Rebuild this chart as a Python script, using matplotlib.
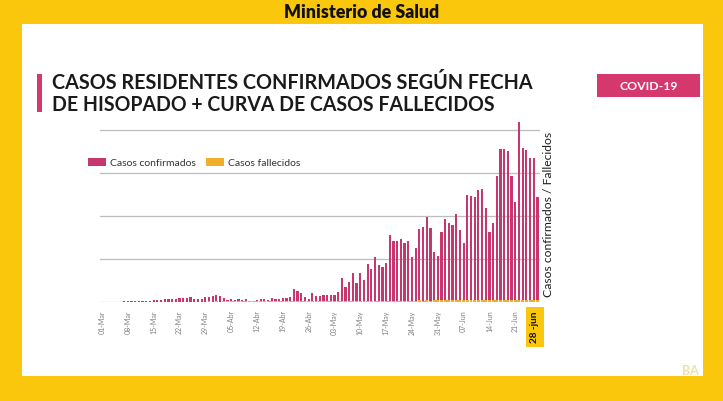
import matplotlib
matplotlib.use('Agg')
import matplotlib.pyplot as plt
from matplotlib.patches import Rectangle, Patch
import matplotlib.transforms as mtransforms
import numpy as np
import pandas as pd

# ---------------- data ----------------
dates = pd.date_range('2020-03-01', '2020-06-27', freq='D')

confirmados = [
    # Mar 1-31
    0, 0, 0, 2, 0, 2, 3, 3, 3, 4, 4, 5, 4, 6, 9, 10, 12, 15, 15, 17, 20, 23, 26, 26, 29, 17, 15, 17, 29, 29, 32,
    # Apr 1-30
    38, 35, 23, 12, 17, 12, 16, 12, 15, 6, 4, 12, 17, 20, 9, 26, 20, 20, 23, 26, 29, 76, 64, 52, 29, 20, 52, 35, 35, 38,
    # May 1-31
    41, 41, 41, 58, 140, 87, 116, 169, 110, 169, 128, 221, 192, 262, 215, 203, 227, 390, 355, 355, 366, 343, 355, 262,
    314, 424, 436, 494, 430, 291, 267,
    # Jun 1-27
    407, 483, 459, 448, 512, 419, 343, 622, 616, 610, 651, 657, 547, 407, 459, 733, 890, 890, 878, 733, 581, 1047,
    895, 884, 837, 837, 610,
]

fallecidos = [
    # Mar
    0, 0, 0, 0, 0, 0, 0, 1, 0, 0, 1, 0, 1, 0, 1, 1, 1, 1, 1, 1, 2, 1, 2, 1, 2, 2, 2, 2, 2, 3, 2,
    # Apr
    3, 2, 3, 3, 3, 3, 3, 4, 3, 3, 4, 4, 3, 4, 4, 4, 4, 3, 4, 5, 4, 5, 4, 5, 5, 5, 4, 5, 5, 5,
    # May
    5, 6, 5, 6, 6, 6, 5, 6, 6, 7, 6, 7, 6, 7, 7, 7, 7, 8, 7, 8, 7, 8, 8, 8, 8, 9, 8, 9, 8, 9, 9,
    # Jun
    9, 9, 10, 9, 10, 9, 10, 10, 11, 10, 11, 10, 11, 11, 12, 11, 12, 11, 12, 12, 12, 11, 12, 12, 12, 11, 11,
]

tick_labels = ['01-Mar', '08-Mar', '15-Mar', '22-Mar', '29-Mar', '05-Abr', '12-Abr', '19-Abr',
               '26-Abr', '03-May', '10-May', '17-May', '24-May', '31-May', '07-Jun', '14-Jun', '21-Jun']
last_label = '28 -jun'
grid_values = [0, 250, 500, 750, 1000]

# ---------------- style ----------------
YELLOW = '#FBC70C'
PINK = '#C6376F'
PINK_T = '#D5386D'
GOLD = '#F0AE2A'
W, H = 723, 401

fig = plt.figure(figsize=(W / 100, H / 100), dpi=100, facecolor=YELLOW)


def fx(x):
    return x / W


def fy(y):
    return 1 - y / H


# white panel
fig.patches.append(Rectangle((fx(22), fy(376)), (703 - 22) / W, (376 - 24) / H,
                             transform=fig.transFigure, facecolor='white', edgecolor='none', zorder=-5))

# pink accent bar next to title
fig.patches.append(Rectangle((fx(37), fy(112)), 5 / W, (112 - 74) / H,
                             transform=fig.transFigure, facecolor=PINK_T, edgecolor='none', zorder=-4))
# COVID badge
fig.patches.append(Rectangle((fx(597), fy(97)), (700 - 597) / W, (97 - 74) / H,
                             transform=fig.transFigure, facecolor=PINK_T, edgecolor='none', zorder=-4))

FONT = 'Lato'
t_min = fig.text(fx(362), fy(12), 'Ministerio de Salud', ha='center', va='center',
                 fontsize=10, fontweight='heavy', family=FONT, color='#111111')
t1 = fig.text(fx(52), fy(83), 'CASOS RESIDENTES CONFIRMADOS SEGÚN FECHA', ha='left', va='center',
              fontsize=14, fontweight='bold', family=FONT, color='#1a1a1a')
t2 = fig.text(fx(52), fy(105), 'DE HISOPADO + CURVA DE CASOS FALLECIDOS', ha='left', va='center',
              fontsize=14, fontweight='bold', family=FONT, color='#1a1a1a')
t_cov = fig.text(fx(648.5), fy(86), 'COVID-19', ha='center', va='center',
                 fontsize=8, fontweight='bold', family=FONT, color='white')
t_y = fig.text(fx(549), fy(214), 'Casos confirmados / Fallecidos', ha='center', va='center',
               rotation=90, fontsize=8, family=FONT, color='#1e1e1e')

# ---------------- axes ----------------
ax = fig.add_axes([fx(100), fy(302), 440 / W, (302 - 120) / H])
ax.set_zorder(2)
ax.set_facecolor('none')
x = np.arange(len(dates))
ax.bar(x, confirmados, width=0.6, color=PINK, zorder=3, label='Casos confirmados')
ax.bar(x, fallecidos, width=0.8, color=GOLD, zorder=4, label='Casos fallecidos')

ax.set_xlim(-0.54, 118.7)
ax.set_ylim(0, 250 * 182 / 43)
ax.set_yticks(grid_values)
ax.set_yticklabels([])
ax.tick_params(axis='y', length=0)
ax.yaxis.grid(True, color='#BDBDBD', linewidth=0.9, zorder=0)
ax.set_axisbelow(True)
for s in ax.spines.values():
    s.set_visible(False)

ax.set_xticks(x[::7][:len(tick_labels)])
ax.set_xticklabels(tick_labels, rotation=90, fontsize=5, color='#808080', family=FONT)
ax.tick_params(axis='x', length=0, pad=6)

trans = mtransforms.blended_transform_factory(ax.transData, ax.transAxes)
ax.text(117.3, -0.137, last_label, transform=trans, rotation=90, ha='center', va='center',
        fontsize=7.2, fontweight='bold', family=FONT, color='#111111',
        bbox=dict(boxstyle='square,pad=0.45', facecolor='#F9C80E', edgecolor='none'))

handles = [Patch(facecolor=PINK, edgecolor='none'), Patch(facecolor=GOLD, edgecolor='none')]
fig.legend(handles, ['Casos confirmados', 'Casos fallecidos'], loc='center left',
           bbox_to_anchor=(fx(88), fy(163)), ncol=2, frameon=False,
           prop={'family': FONT, 'size': 7.5}, labelcolor='#333333',
           handlelength=1.7, handleheight=0.7, handletextpad=0.4, columnspacing=1.0,
           borderpad=0, borderaxespad=0)

# BA logo (faint)
fig.text(fx(690), fy(371), 'BA', ha='center', va='center', fontsize=9, fontweight='bold',
         family=FONT, color='#E9DFA0', alpha=0.9)

# --------- fit text sizes to measured widths ---------
fig.canvas.draw()
r = fig.canvas.get_renderer()


def fit(t, target, dim='w'):
    bb = t.get_window_extent(r)
    cur = bb.width if dim == 'w' else bb.height
    t.set_fontsize(t.get_fontsize() * target / cur)


fit(t_min, 155)
fit(t1, 481)
fit(t2, 445)
fit(t_cov, 58)
fit(t_y, 166, 'h')

fig.savefig('out.png', dpi=100, facecolor=YELLOW)
